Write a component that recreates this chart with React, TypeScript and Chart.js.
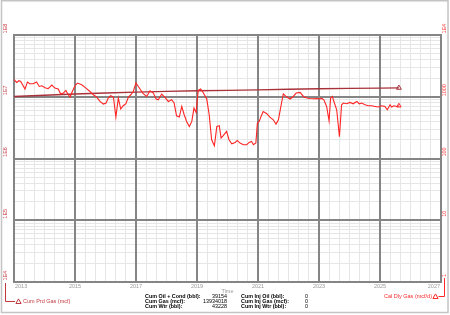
import { useEffect, useRef } from "react";
import { Chart, registerables } from "chart.js";

Chart.register(...registerables);

// ---- Data ----
const rateYears = [
  2013.0, 2013.09, 2013.16, 2013.22, 2013.3, 2013.36, 2013.44, 2013.52, 2013.63, 2013.74, 2013.83, 2013.91,
  2014.02, 2014.12, 2014.24, 2014.34, 2014.45, 2014.53, 2014.62, 2014.7, 2014.78, 2014.84, 2014.89,
  2015.0, 2015.08, 2015.22, 2015.36, 2015.49, 2015.6, 2015.71, 2015.82, 2015.93,
  2016.02, 2016.09, 2016.17, 2016.26, 2016.34, 2016.42, 2016.5, 2016.58, 2016.67, 2016.75, 2016.83, 2016.91,
  2017.0, 2017.11, 2017.22, 2017.35, 2017.46, 2017.57, 2017.66, 2017.73, 2017.84, 2017.95,
  2018.06, 2018.17, 2018.25, 2018.33, 2018.42, 2018.5, 2018.58, 2018.66, 2018.75, 2018.83, 2018.9, 2018.97,
  2019.04, 2019.12, 2019.21, 2019.32, 2019.4, 2019.48, 2019.57, 2019.65, 2019.73, 2019.79, 2019.86, 2019.97,
  2020.05, 2020.14, 2020.25, 2020.32, 2020.41, 2020.52, 2020.63, 2020.71, 2020.79, 2020.85, 2020.93, 2020.98,
  2021.04, 2021.1, 2021.17, 2021.29, 2021.39, 2021.5, 2021.59, 2021.67, 2021.74, 2021.83, 2021.94,
  2022.05, 2022.14, 2022.25, 2022.38, 2022.49, 2022.6, 2022.7, 2022.81, 2022.92,
  2023.03, 2023.09, 2023.16, 2023.25, 2023.33, 2023.38, 2023.44, 2023.47, 2023.58, 2023.67, 2023.74, 2023.8, 2023.91,
  2024.02, 2024.12, 2024.24, 2024.32, 2024.4, 2024.51, 2024.62, 2024.73, 2024.84, 2024.94,
  2025.06, 2025.16, 2025.24, 2025.33, 2025.38, 2025.46, 2025.55, 2025.62,
];
const rateValues = [
  1885, 1704, 1816, 1769, 1507, 1332, 1730, 1624, 1624, 1730, 1468, 1507,
  1399, 1348, 1547, 1383, 1332, 1106, 1148, 1265, 1077, 989, 1148,
  1507, 1667, 1564, 1383, 1218, 1077, 989, 839, 762,
  791, 953, 1038, 989, 469, 953, 632, 715, 770, 989, 1077, 1218,
  1667, 1383, 1148, 1011, 1251, 1148, 918, 894, 1106, 974,
  839, 894, 791, 492, 469, 697, 511, 398, 330, 398, 656, 557,
  1265, 1332, 1148, 918, 511, 201, 161, 330, 339, 215, 234, 274,
  201, 173, 182, 196, 178, 167, 167, 182, 189, 167, 178, 375,
  398, 480, 578, 531, 469, 424, 361, 424, 656, 1118, 989,
  918, 989, 1148, 1174, 1011, 953, 939, 928, 939,
  928, 939, 894, 697, 409, 953, 1011, 894, 616, 225, 742, 791, 770,
  809, 770, 839, 770, 791, 742, 715, 715, 697, 681,
  715, 697, 616, 742, 681, 715, 697, 715,
];

const cumYears = [2013, 2014, 2015, 2016, 2017, 2018, 2019, 2020, 2021, 2022, 2023, 2024, 2025, 2025.62];
const cumValues = [1.01e7, 1.06e7, 1.11e7, 1.15e7, 1.19e7, 1.22e7, 1.25e7, 1.27e7, 1.29e7, 1.32e7, 1.345e7, 1.365e7, 1.38e7, 1.393e7];

const xTickYears = [2013, 2015, 2017, 2019, 2021, 2023, 2025, 2027];
const leftDecades = [1e4, 1e5, 1e6, 1e7, 1e8];
const leftLabels = ["1E4", "1E5", "1E6", "1E7", "1E8"];
const rightDecades = [1, 10, 100, 1000, 1e4];
const rightLabels = ["1", "10", "100", "1000", "1E4"];

const statLabels1 = ["Cum Oil + Cond (bbl):", "Cum Gas (mcf):", "Cum Wtr (bbl):"];
const statValues1 = ["39154", "13934018", "43228"];
const statLabels2 = ["Cum Inj Oil (bbl):", "Cum Inj Gas (mcf):", "Cum Inj Wtr (bbl):"];
const statValues2 = ["0", "0", "0"];

const RATE_COLOR = "#ff2424";
const CUM_COLOR = "#a8323a";
const MAJOR = "#858585";
const MINOR = "#e6e6e6";
const FONT = '"Liberation Sans", Arial, sans-serif';

function logTicks(minExp: number, maxExp: number) {
  const t: { value: number }[] = [];
  for (let e = minExp; e < maxExp; e++) {
    for (let m = 1; m <= 9; m++) t.push({ value: m * Math.pow(10, e) });
  }
  t.push({ value: Math.pow(10, maxExp) });
  return t;
}

function isDecade(v: number) {
  const l = Math.log10(v);
  return Math.abs(l - Math.round(l)) < 1e-9;
}

function isMajorYear(v: number) {
  const k = (v - 2013) / 2;
  return Math.abs(k - Math.round(k)) < 1e-6;
}

function tri(ctx: CanvasRenderingContext2D, cx: number, cy: number, color: string) {
  ctx.beginPath();
  ctx.moveTo(cx, cy - 2.6);
  ctx.lineTo(cx + 2.6, cy + 2);
  ctx.lineTo(cx - 2.6, cy + 2);
  ctx.closePath();
  ctx.strokeStyle = color;
  ctx.lineWidth = 1;
  ctx.stroke();
}

const decorPlugin = {
  id: "decor",
  beforeDatasetsDraw(chart: any) {
    // redraw major vertical grid lines over the minor horizontal ones
    const ctx: CanvasRenderingContext2D = chart.ctx;
    const xs = chart.scales.x;
    const ys = chart.scales.y;
    const area = chart.chartArea;
    ctx.save();
    ctx.strokeStyle = MAJOR;
    ctx.lineWidth = 2;
    xTickYears.forEach((yr) => {
      const px = Math.round(xs.getPixelForValue(yr));
      ctx.beginPath();
      ctx.moveTo(px, area.top);
      ctx.lineTo(px, area.bottom);
      ctx.stroke();
    });
    leftDecades.forEach((v) => {
      const py = Math.round(ys.getPixelForValue(v));
      ctx.beginPath();
      ctx.moveTo(area.left, py);
      ctx.lineTo(area.right, py);
      ctx.stroke();
    });
    ctx.restore();
  },
  afterDraw(chart: any) {
    const ctx: CanvasRenderingContext2D = chart.ctx;
    const xs = chart.scales.x;
    const ys = chart.scales.y;
    const y1 = chart.scales.y1;
    ctx.save();
    // outer frame
    ctx.strokeStyle = "#c4c4c4";
    ctx.lineWidth = 1.5;
    ctx.strokeRect(1.5, 0.75, 446.5, 311.75);

    // x labels
    ctx.font = `5.5px ${FONT}`;
    ctx.fillStyle = "#9a9a9a";
    ctx.textBaseline = "middle";
    xTickYears.forEach((yr, i) => {
      const px = xs.getPixelForValue(yr);
      if (i === 0) {
        ctx.textAlign = "left";
        ctx.fillText(String(yr), px + 1, 286);
      } else if (i === xTickYears.length - 1) {
        ctx.textAlign = "right";
        ctx.fillText(String(yr), px - 1, 286);
      } else {
        ctx.textAlign = "center";
        ctx.fillText(String(yr), px, 286);
      }
    });
    ctx.textAlign = "center";
    ctx.fillText("Time", (xs.left + xs.right) / 2, 291.5);

    // left axis labels
    ctx.fillStyle = "#c83c44";
    leftDecades.forEach((v, i) => {
      const py = ys.getPixelForValue(v);
      ctx.save();
      ctx.translate(5.5, py - 6.5);
      ctx.rotate(-Math.PI / 2);
      ctx.textAlign = "center";
      ctx.textBaseline = "middle";
      ctx.fillText(leftLabels[i], 0, 0);
      ctx.restore();
    });
    // right axis labels
    ctx.fillStyle = "#ff3030";
    rightDecades.forEach((v, i) => {
      const py = y1.getPixelForValue(v);
      ctx.save();
      ctx.translate(444.5, py - 6.5);
      ctx.rotate(-Math.PI / 2);
      ctx.textAlign = "center";
      ctx.textBaseline = "middle";
      ctx.fillText(rightLabels[i], 0, 0);
      ctx.restore();
    });

    // left legend
    ctx.strokeStyle = "#c03a40";
    ctx.lineWidth = 1;
    ctx.beginPath();
    ctx.moveTo(5.5, 283);
    ctx.lineTo(5.5, 301.5);
    ctx.lineTo(15, 301.5);
    ctx.stroke();
    tri(ctx, 18.5, 301.5, "#c03a40");
    ctx.fillStyle = "#c03a40";
    ctx.textAlign = "left";
    ctx.fillText("Cum Prd Gas (mcf)", 23, 301.8);

    // right legend
    ctx.strokeStyle = "#ff2a2a";
    ctx.beginPath();
    ctx.moveTo(444.5, 278);
    ctx.lineTo(444.5, 296.5);
    ctx.lineTo(438.5, 296.5);
    ctx.stroke();
    tri(ctx, 435.5, 296.5, "#ff2a2a");
    ctx.fillStyle = "#ff2a2a";
    ctx.textAlign = "right";
    ctx.fillText("Cal Dly Gas (mcf/d)", 432, 296.8);

    // stats
    const rows = [296.8, 301.8, 306.8];
    ctx.fillStyle = "#000";
    rows.forEach((ry, i) => {
      ctx.font = `bold 5.4px ${FONT}`;
      ctx.textAlign = "left";
      ctx.fillText(statLabels1[i], 145, ry);
      ctx.fillText(statLabels2[i], 241, ry);
      ctx.font = `5.4px ${FONT}`;
      ctx.textAlign = "right";
      ctx.fillText(statValues1[i], 227, ry);
      ctx.fillText(statValues2[i], 308, ry);
    });
    ctx.restore();
  },
};

export default function App() {
  const ref = useRef<HTMLCanvasElement | null>(null);
  useEffect(() => {
    document.body.style.margin = "0";
    const canvas = ref.current;
    if (!canvas) return;
    const rateData = rateYears.map((x, i) => ({ x, y: rateValues[i] }));
    const cumData = cumYears.map((x, i) => ({ x, y: cumValues[i] }));
    const lastR = rateData.length - 1;
    const lastC = cumData.length - 1;
    const chart = new Chart(canvas, {
      type: "line",
      data: {
        datasets: [
          {
            label: "Cal Dly Gas (mcf/d)",
            data: rateData,
            yAxisID: "y1",
            borderColor: RATE_COLOR,
            borderWidth: 1.1,
            tension: 0,
            pointStyle: "triangle",
            pointRadius: (c: any) => (c.dataIndex === lastR ? 2.5 : 0),
            pointBackgroundColor: "rgba(0,0,0,0)",
            pointBorderColor: RATE_COLOR,
            pointBorderWidth: 1,
          },
          {
            label: "Cum Prd Gas (mcf)",
            data: cumData,
            yAxisID: "y",
            borderColor: CUM_COLOR,
            borderWidth: 1.4,
            tension: 0,
            pointStyle: "triangle",
            pointRadius: (c: any) => (c.dataIndex === lastC ? 2.8 : 0),
            pointBackgroundColor: "rgba(0,0,0,0)",
            pointBorderColor: CUM_COLOR,
            pointBorderWidth: 1,
          },
        ],
      },
      options: {
        responsive: false,
        animation: false,
        devicePixelRatio: 1,
        layout: { padding: { left: 14, top: 35, right: 9, bottom: 33 } },
        plugins: { legend: { display: false }, tooltip: { enabled: false } },
        scales: {
          x: {
            type: "linear",
            position: "bottom",
            min: 2013,
            max: 2027,
            afterBuildTicks: (scale: any) => {
              const t: { value: number }[] = [];
              for (let i = 0; i <= 42; i++) t.push({ value: 2013 + i / 3 });
              scale.ticks = t;
            },
            ticks: { display: false },
            grid: {
              drawTicks: false,
              color: (c: any) => (c.tick && isMajorYear(c.tick.value) ? MAJOR : MINOR),
              lineWidth: (c: any) => (c.tick && isMajorYear(c.tick.value) ? 2 : 1),
            },
            border: { display: true, color: MAJOR, width: 2 },
          },
          y: {
            type: "logarithmic",
            position: "left",
            min: 1e4,
            max: 1e8,
            afterBuildTicks: (scale: any) => {
              scale.ticks = logTicks(4, 8);
            },
            ticks: { display: false },
            grid: {
              drawTicks: false,
              color: (c: any) => (c.tick && isDecade(c.tick.value) ? MAJOR : MINOR),
              lineWidth: (c: any) => (c.tick && isDecade(c.tick.value) ? 2 : 1),
            },
            border: { display: true, color: MAJOR, width: 2 },
          },
          y1: {
            type: "logarithmic",
            position: "right",
            min: 1,
            max: 1e4,
            afterBuildTicks: (scale: any) => {
              scale.ticks = logTicks(0, 4);
            },
            ticks: { display: false },
            grid: { display: false, drawTicks: false },
            border: { display: true, color: MAJOR, width: 2 },
          },
        },
      },
      plugins: [decorPlugin],
    } as any);
    return () => chart.destroy();
  }, []);
  return (
    <div style={{ width: 450, height: 315, background: "#fff" }}>
      <canvas ref={ref} width={450} height={315} style={{ display: "block" }} />
    </div>
  );
}
